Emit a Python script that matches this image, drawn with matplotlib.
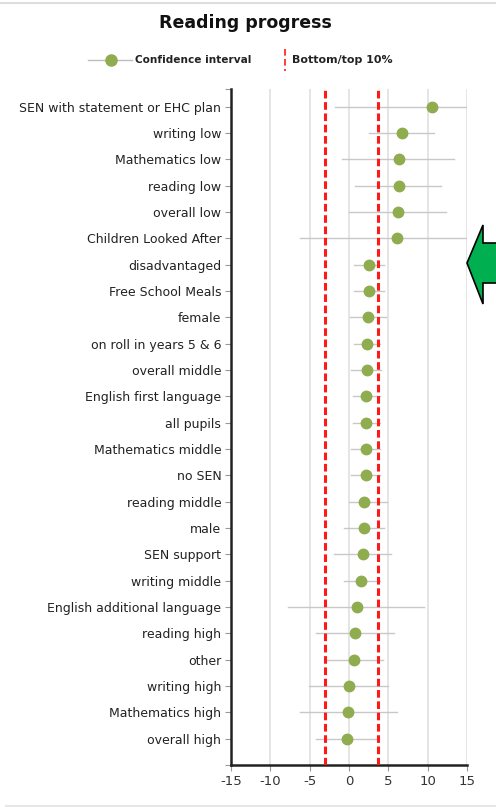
import matplotlib
matplotlib.use("Agg")
import matplotlib.pyplot as plt
from matplotlib.patches import Polygon
from matplotlib.lines import Line2D

# groups listed bottom to top
groups = [
    "overall high", "Mathematics high", "writing high", "other", "reading high",
    "English additional language", "writing middle", "SEN support", "male",
    "reading middle", "no SEN", "Mathematics middle", "all pupils",
    "English first language", "overall middle", "on roll in years 5 & 6",
    "female", "Free School Meals", "disadvantaged", "Children Looked After",
    "overall low", "reading low", "Mathematics low", "writing low",
    "SEN with statement or EHC plan",
]
progress = [-0.2, -0.1, 0.0, 0.6, 0.7, 1.0, 1.5, 1.8, 1.9, 1.9, 2.1, 2.1, 2.2,
            2.2, 2.3, 2.3, 2.4, 2.6, 2.6, 6.1, 6.2, 6.3, 6.4, 6.7, 10.5]
ci_low = [-4.2, -6.2, -5.1, -2.9, -4.2, -7.7, -0.6, -1.9, -0.6, 0.0, 0.2, 0.3,
          0.5, 0.5, 0.3, 0.6, 0.1, 0.6, 0.6, -6.2, 0.0, 0.8, -0.9, 2.6, -1.8]
ci_high = [3.7, 6.1, 5.0, 4.3, 5.7, 9.5, 3.9, 5.4, 4.4, 4.8, 3.9, 4.0, 3.9,
           3.9, 4.1, 3.9, 4.7, 4.5, 4.5, 15.0, 12.3, 11.7, 13.4, 10.8, 15.0]
bottom_10, top_10 = -3.1, 3.7
x_ticks = [-15, -10, -5, 0, 5, 10, 15]

W, H = 496, 807
fig = plt.figure(figsize=(W / 100, H / 100), dpi=100)
ax = fig.add_axes([231 / W, 1 - 765 / H, 236 / W, 676 / H])

dot_color = "#8fac4f"
ypos = list(range(1, len(groups) + 1))

for y, lo, hi in zip(ypos, ci_low, ci_high):
    ax.plot([lo, hi], [y, y], color="#c8c8c8", lw=1, zorder=2)
ax.plot(progress, ypos, "o", color=dot_color, ms=7.5, zorder=3)

for xv in (bottom_10, top_10):
    ax.axvline(xv, color="#ff1a1a", lw=2.2, ls=(0, (2.5, 1.2)), zorder=4)

ax.set_xlim(-15, 15)
ax.set_ylim(0, 25.67)
ax.set_xticks(x_ticks)
ax.set_xticklabels([str(t) for t in x_ticks], fontsize=9.5, color="#333333")
ax.set_yticks(ypos)
ax.set_yticklabels(groups, fontsize=9, color="#222222")
ax.set_yticks([0, 25.67], minor=True)
ax.tick_params(axis="both", which="both", length=4, color="#999999", width=0.8)
ax.tick_params(axis="y", pad=3)
ax.grid(axis="x", color="#e0e0e0", lw=1.2, zorder=0)
ax.set_axisbelow(True)
for side in ("top", "right"):
    ax.spines[side].set_visible(False)
for side in ("left", "bottom"):
    ax.spines[side].set_linewidth(1.8)
    ax.spines[side].set_color("#222222")

fig.text(245 / W, 1 - 23 / H, "Reading progress", ha="center", va="center",
         fontsize=12.5, fontweight="bold", color="#111111")

# legend drawn by hand in figure pixels
def fx(px):
    return px / W

def fy(py):
    return 1 - py / H

fig.add_artist(Line2D([fx(88), fx(132)], [fy(60), fy(60)], color="#bdbdbd", lw=1))
fig.add_artist(Line2D([fx(111)], [fy(60)], marker="o", color=dot_color, ms=8, ls="none"))
fig.text(fx(135), fy(60), "Confidence interval", ha="left", va="center",
         fontsize=7.6, fontweight="bold", color="#222222")
fig.add_artist(Line2D([fx(285), fx(285)], [fy(49), fy(71)], color="#ff1a1a", lw=1.2,
                      ls=(0, (4, 2))))
fig.text(fx(292), fy(60), "Bottom/top 10%", ha="left", va="center",
         fontsize=7.9, fontweight="bold", color="#222222")

# thin separator lines at top and bottom
fig.add_artist(Line2D([0, 1], [fy(3), fy(3)], color="#dddddd", lw=1.5))
fig.add_artist(Line2D([fx(6), 1], [fy(806), fy(806)], color="#e6e6e6", lw=1.5))

# green arrow on the right
arrow_px = [(467, 263), (483, 225), (483, 243), (500, 243), (500, 283),
            (483, 283), (483, 304)]
fig.add_artist(Polygon([(fx(x), fy(y)) for x, y in arrow_px], closed=True,
                       facecolor="#00b050", edgecolor="black", lw=1.2,
                       transform=fig.transFigure))

fig.savefig("out.png", dpi=100)
